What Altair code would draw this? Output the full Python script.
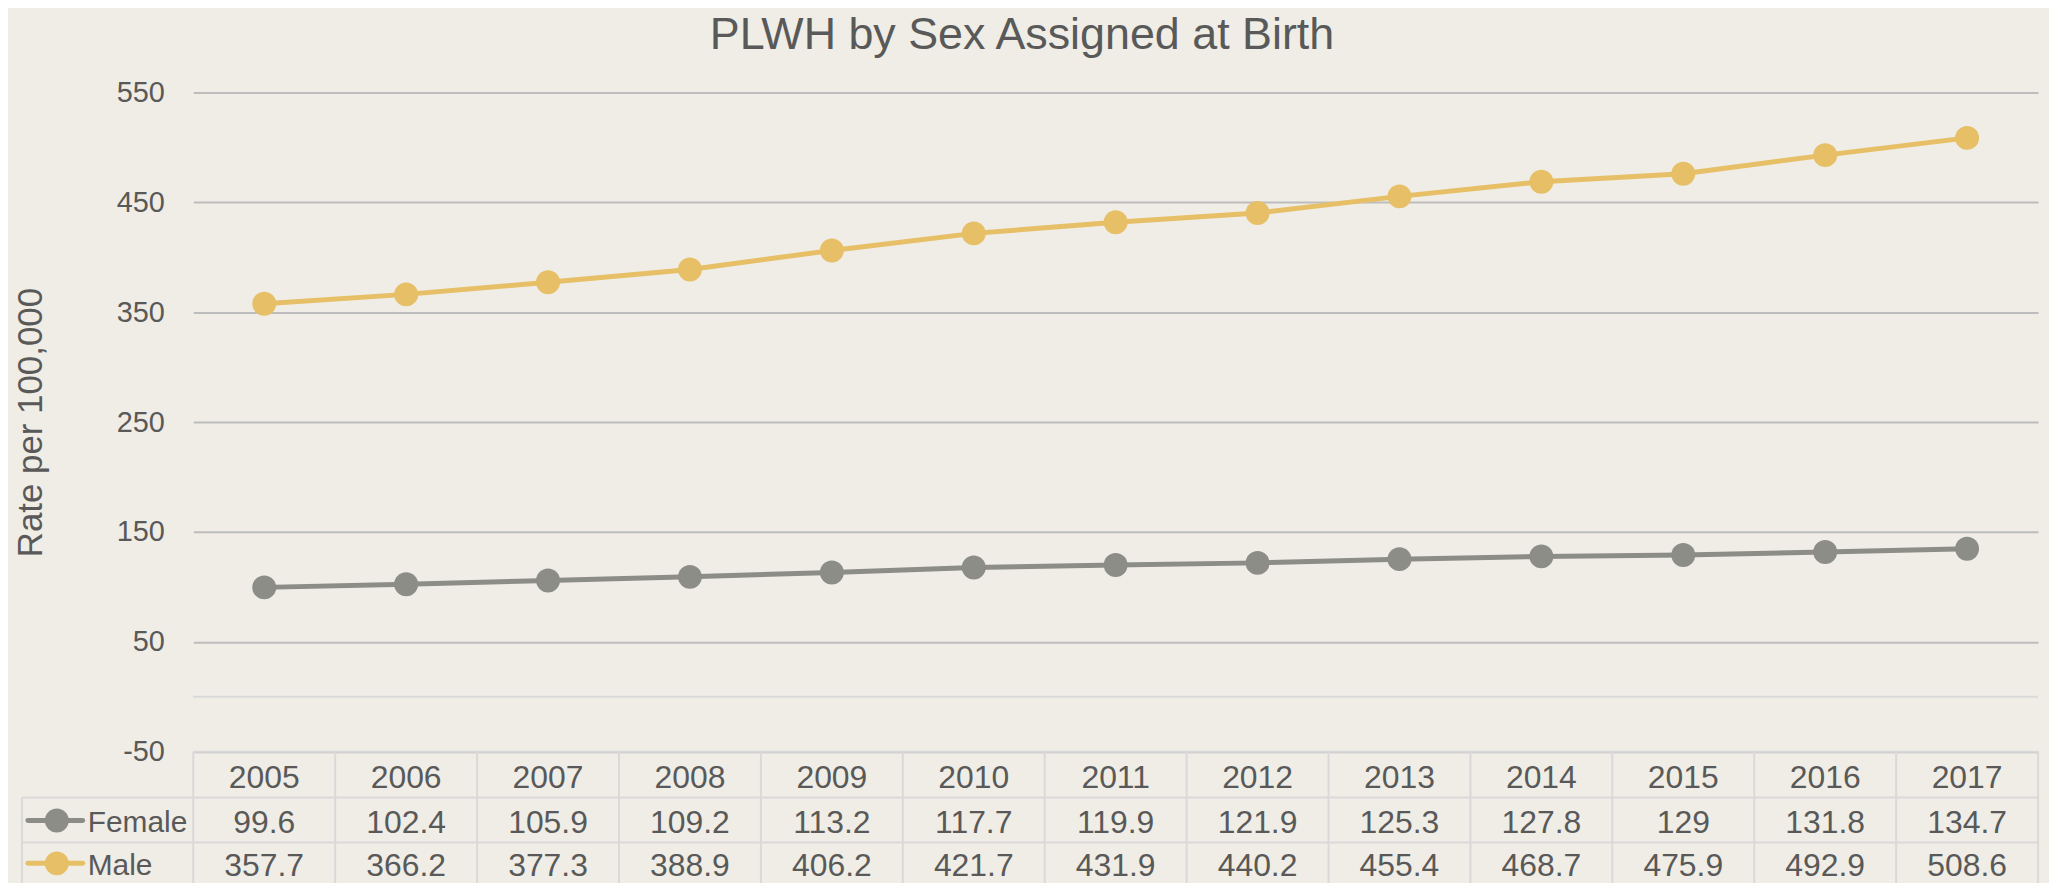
import altair as alt
import pandas as pd

years = [2005, 2006, 2007, 2008, 2009, 2010, 2011, 2012, 2013, 2014, 2015, 2016, 2017]
female = [99.6, 102.4, 105.9, 109.2, 113.2, 117.7, 119.9, 121.9, 125.3, 127.8, 129, 131.8, 134.7]
male = [357.7, 366.2, 377.3, 388.9, 406.2, 421.7, 431.9, 440.2, 455.4, 468.7, 475.9, 492.9, 508.6]
series = ["Female", "Male"]
colors = ["#8C8D86", "#E6BF66"]
y_ticks = [-50, 50, 150, 250, 350, 450, 550]

TEXT = "#595959"
GRID = "#BDBDBD"
TABLE = "#D9D9D9"
BG = "#EFEDE5"
FONT = "Liberation Sans"

W, H = 1852, 662
ROW_Y = [688, 734, 777]
ROW_LINES = [708, 753]
LEG_X0, LEG_X1, LEG_MX, LEG_TX, TAB_L = -166, -111, -137, -106, -172

df = pd.DataFrame({
    "year": years * 2,
    "sex": ["Female"] * len(years) + ["Male"] * len(years),
    "value": female + male,
})
df["label"] = [f"{v:g}" for v in df["value"]]

bounds = pd.DataFrame({"year": [y - 0.5 for y in years] + [years[-1] + 0.5]})
yrs = pd.DataFrame({"year": years, "label": [str(y) for y in years]})

xscale = alt.Scale(domain=[years[0] - 0.5, years[-1] + 0.5], nice=False, zero=False)
yscale = alt.Scale(domain=[-50, 550], nice=False, zero=False)
cscale = alt.Scale(domain=series, range=colors)

X = alt.X("year:Q", scale=xscale, axis=None)

yaxis = alt.Axis(title="Rate per 100,000", values=y_ticks, grid=True, gridColor=GRID,
                 gridWidth=2, domain=False, ticks=False, labelPadding=29,
                 labelExpr="'' + datum.value",
                 labelFontSize=29, labelColor=TEXT, labelFont=FONT,
                 titleFontSize=35, titleColor=TEXT, titleFont=FONT,
                 titleFontWeight="normal", titleAngle=270,
                 titleX=-163, titleY=H / 2, titleAlign="center", titleBaseline="middle")

base = alt.Chart(df)

lines = base.mark_line(strokeWidth=5).encode(
    x=X,
    y=alt.Y("value:Q", scale=yscale, axis=yaxis),
    color=alt.Color("sex:N", scale=cscale, legend=None),
)
points = base.mark_point(filled=True, shape="circle", size=576, opacity=1).encode(
    x=X,
    y=alt.Y("value:Q", scale=yscale, axis=yaxis),
    color=alt.Color("sex:N", scale=cscale, legend=None),
)

refs = alt.Chart(pd.DataFrame({"value": [0, -50]})).mark_rule(color=TABLE, strokeWidth=2).encode(
    y=alt.Y("value:Q", scale=yscale, axis=yaxis)
)

hlines = [
    alt.Chart(pd.DataFrame({"k": [0]})).mark_rule(color=TABLE, strokeWidth=2).encode(
        x=alt.value(TAB_L), x2=alt.value(W), y=alt.value(yy)
    )
    for yy in ROW_LINES
]

vlines = alt.Chart(bounds).mark_rule(color=TABLE, strokeWidth=2).encode(
    x=X, y=alt.value(H), y2=alt.value(H + 240)
)
leg_left = alt.Chart(pd.DataFrame({"k": [0]})).mark_rule(color=TABLE, strokeWidth=2).encode(
    x=alt.value(TAB_L), y=alt.value(ROW_LINES[0]), y2=alt.value(H + 240)
)

header = alt.Chart(yrs).mark_text(fontSize=32, font=FONT, color=TEXT, baseline="middle").encode(
    x=X, y=alt.value(ROW_Y[0]), text="label:N"
)

row_layers = []
for i, (s, c) in enumerate(zip(series, colors)):
    ry = ROW_Y[i + 1]
    sub = df[df["sex"] == s]
    row_layers.append(
        alt.Chart(sub).mark_text(fontSize=32, font=FONT, color=TEXT, baseline="middle").encode(
            x=X, y=alt.value(ry), text="label:N"
        )
    )
    one = pd.DataFrame({"sex": [s]})
    row_layers.append(
        alt.Chart(one).mark_rule(color=c, strokeWidth=5, strokeCap="round").encode(
            x=alt.value(LEG_X0), x2=alt.value(LEG_X1), y=alt.value(ry - 3)
        )
    )
    row_layers.append(
        alt.Chart(one).mark_circle(size=576, opacity=1, color=c).encode(
            x=alt.value(LEG_MX), y=alt.value(ry - 3)
        )
    )
    row_layers.append(
        alt.Chart(one).mark_text(fontSize=30, font=FONT, color=TEXT, align="left",
                                 baseline="middle").encode(
            x=alt.value(LEG_TX), y=alt.value(ry), text="sex:N"
        )
    )

chart = alt.layer(
    refs, *hlines, vlines, leg_left, lines, points, header, *row_layers
).properties(
    width=W,
    height=H,
    title=alt.TitleParams("PLWH by Sex Assigned at Birth", fontSize=45, font=FONT,
                          color=TEXT, fontWeight="normal", anchor="middle", dx=-94,
                          offset=21),
    padding={"left": 186, "top": 83, "right": 11, "bottom": 130},
    autosize=alt.AutoSizeParams(type="none"),
    background=BG,
).configure_view(stroke=None)

chart.save("out.html", embed_options={"renderer": "svg", "actions": False})
